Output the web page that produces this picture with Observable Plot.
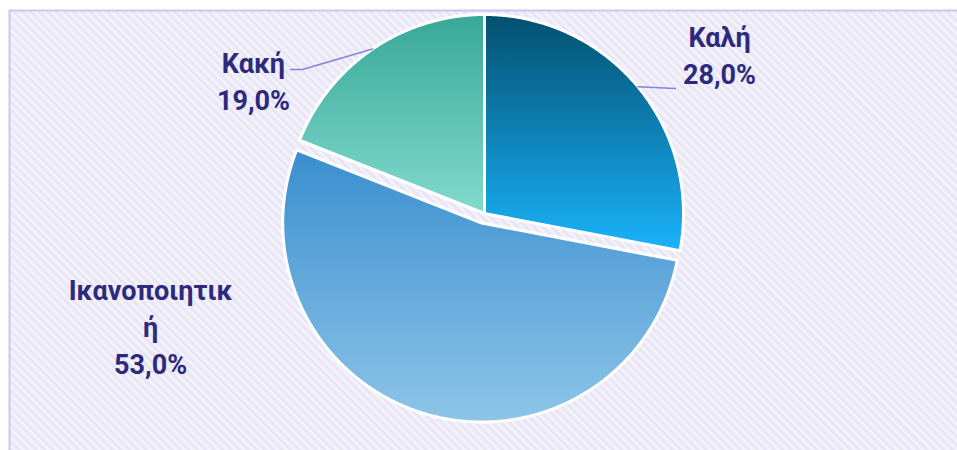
<!DOCTYPE html>
<html><head><meta charset="utf-8">
<script src="https://cdn.jsdelivr.net/npm/d3@7"></script>
<script src="https://cdn.jsdelivr.net/npm/@observablehq/plot@0.6"></script>
<style>body{margin:0;background:#fff}</style>
</head><body><div id="chart"></div>
<script>
// ---- data ----
const categories = ["Καλή", "Ικανοποιητική", "Κακή"];
const values = [28.0, 53.0, 19.0];
const valueLabels = ["28,0%", "53,0%", "19,0%"];

// ---- layout / style ----
const W = 957, H = 450, CX = 484, CY = 213, R = 199;
const explode = [0, 0.05, 0];
const gradStops = [["#03506F", "#1AB3FB"], ["#3A8ECF", "#8DC5E8"], ["#37A898", "#82DACE"]];
const labelPos = [[1.181, -0.802], [-1.678, 0.563], [-1.161, -0.673]];
const leaderTail = [[[0.960, -0.628]], null, [[-0.915, -0.724], [-0.975, -0.724]]];

const arcs = d3.pie().sort(null).value(d => d)(values);
const slicePts = [];
arcs.forEach((a, i) => {
  const mid = (a.startAngle + a.endAngle) / 2;
  const ox = explode[i] * Math.sin(mid), oy = -explode[i] * Math.cos(mid);
  slicePts.push({i, x: ox, y: oy});
  const n = Math.max(2, Math.ceil((a.endAngle - a.startAngle) / 0.005));
  for (let k = 0; k <= n; k++) {
    const t = a.startAngle + (a.endAngle - a.startAngle) * k / n;
    slicePts.push({i, x: ox + Math.sin(t), y: oy - Math.cos(t)});
  }
});

const leaderPts = [];
arcs.forEach((a, i) => {
  if (!leaderTail[i]) return;
  const mid = (a.startAngle + a.endAngle) / 2;
  leaderPts.push({i, x: Math.sin(mid), y: -Math.cos(mid)});
  leaderTail[i].forEach(([x, y]) => leaderPts.push({i, x, y}));
});

const wrap = s => s.length > 12 ? s.slice(0, 12) + "\n" + s.slice(12) : s;
const labels = categories.map((c, i) => ({
  x: labelPos[i][0], y: labelPos[i][1], text: wrap(c) + "\n" + valueLabels[i]
}));

const marks = [
  Plot.frame({fill: "url(#hatch)", stroke: "#CCC6EF", strokeWidth: 2,
    insetLeft: 9, insetTop: 10, insetRight: -4, insetBottom: -4})
];
categories.forEach((c, i) => {
  marks.push(Plot.line(slicePts.filter(d => d.i === i), {
    x: "x", y: "y", curve: "linear-closed",
    fill: `url(#grad${i})`, stroke: "white", strokeWidth: 3, strokeLinejoin: "round"
  }));
});
marks.push(Plot.line(leaderPts, {x: "x", y: "y", z: "i", stroke: "#8A80D8", strokeWidth: 1.5}));
marks.push(Plot.text(labels, {
  x: "x", y: "y", text: "text", fill: "#2D2A7E", fontSize: 27, fontWeight: "bold",
  fontFamily: "Roboto", lineHeight: 37 / 27, lineAnchor: "middle", textAnchor: "middle"
}));

const svg = Plot.plot({
  width: W, height: H, margin: 0,
  x: {domain: [-CX / R, (W - CX) / R], range: [0, W], axis: null},
  y: {domain: [-CY / R, (H - CY) / R], range: [0, H], axis: null},
  marks
});

const defs = d3.select(svg).insert("defs", ":first-child");
const pat = defs.append("pattern").attr("id", "hatch").attr("width", 6).attr("height", 6)
  .attr("patternUnits", "userSpaceOnUse").attr("patternTransform", "rotate(-45)");
pat.append("rect").attr("width", 6).attr("height", 6).attr("fill", "#F3F2FA");
pat.append("rect").attr("width", 3).attr("height", 6).attr("fill", "#E8E6F5");
gradStops.forEach((s, i) => {
  const g = defs.append("linearGradient").attr("id", `grad${i}`)
    .attr("x1", 0).attr("y1", 0).attr("x2", 0).attr("y2", 1);
  g.append("stop").attr("offset", "0%").attr("stop-color", s[0]);
  g.append("stop").attr("offset", "100%").attr("stop-color", s[1]);
});
document.getElementById("chart").append(svg);
</script>
</body></html>
